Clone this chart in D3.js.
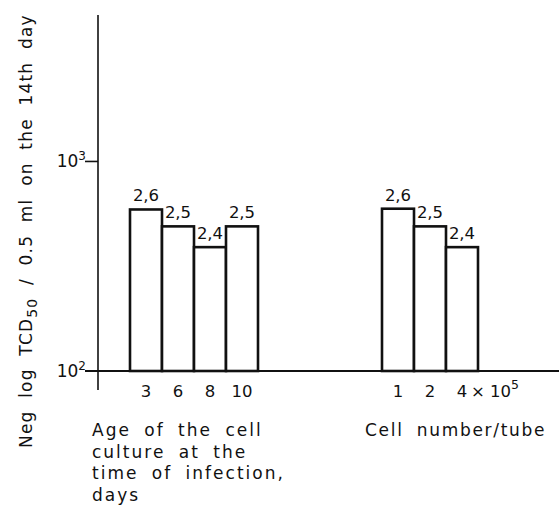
<!DOCTYPE html>
<html>
<head>
<meta charset="utf-8">
<script src="https://cdn.jsdelivr.net/npm/d3@7"></script>
<style>
  body { margin: 0; background: #fff; }
  text { font-family: "DejaVu Sans", sans-serif; fill: #111; }
</style>
</head>
<body>
<div id="chart"></div>
<script>
const width = 559, height = 505;

// group 1: age of the cell culture (days)
const ageDays = ["3", "6", "8", "10"];
const ageTCD = [590, 490, 390, 490];
const ageLabels = ["2,6", "2,5", "2,4", "2,5"];

// group 2: cell number per tube (x 10^5)
const cellNum = ["1", "2", "4"];
const cellTCD = [595, 490, 390];
const cellLabels = ["2,6", "2,5", "2,4"];

const yTicks = [100, 1000];
const yTickExp = ["2", "3"];

const svg = d3.select("#chart")
  .append("svg")
  .attr("width", width)
  .attr("height", height);

const y = d3.scaleLog()
  .domain([100, 5000])
  .range([371, 15]);

const x1 = d3.scaleBand().domain(ageDays).range([130, 258]).padding(0);
const x2 = d3.scaleBand().domain(cellNum).range([382, 478]).padding(0);

// y axis line
svg.append("line")
  .attr("x1", 98).attr("x2", 98)
  .attr("y1", y(5000)).attr("y2", 390)
  .attr("stroke", "#111").attr("stroke-width", 1.6);

// ticks + labels
yTicks.forEach((t, i) => {
  svg.append("line")
    .attr("x1", 85).attr("x2", 98)
    .attr("y1", y(t)).attr("y2", y(t))
    .attr("stroke", "#111").attr("stroke-width", 1.6);
  const lab = svg.append("text")
    .attr("x", 86).attr("y", y(t) + 6)
    .attr("text-anchor", "end")
    .style("font-size", "17px");
  lab.append("tspan").text("10");
  lab.append("tspan").attr("dy", -7).style("font-size", "12px").text(yTickExp[i]);
});

// baseline
svg.append("line")
  .attr("x1", 85).attr("x2", width)
  .attr("y1", y(100)).attr("y2", y(100))
  .attr("stroke", "#111").attr("stroke-width", 1.8);

function drawGroup(x, cats, vals, labels) {
  const g = svg.append("g");
  g.selectAll("rect")
    .data(cats)
    .enter()
    .append("rect")
    .attr("x", d => x(d))
    .attr("y", (d, i) => y(vals[i]))
    .attr("width", x.bandwidth())
    .attr("height", (d, i) => y(100) - y(vals[i]))
    .attr("fill", "#fff")
    .attr("stroke", "#111")
    .attr("stroke-width", 2.6);
  g.selectAll("text.val")
    .data(cats)
    .enter()
    .append("text")
    .attr("class", "val")
    .attr("x", d => x(d) + x.bandwidth() / 2)
    .attr("y", (d, i) => y(vals[i]) - 8)
    .attr("text-anchor", "middle")
    .style("font-size", "16.5px")
    .text((d, i) => labels[i]);
  g.selectAll("text.tick")
    .data(cats)
    .enter()
    .append("text")
    .attr("class", "tick")
    .attr("x", d => x(d) + x.bandwidth() / 2)
    .attr("y", 397)
    .attr("text-anchor", "middle")
    .style("font-size", "16.5px")
    .text(d => d);
}

drawGroup(x1, ageDays, ageTCD, ageLabels);
drawGroup(x2, cellNum, cellTCD, cellLabels);

// "x 10^5" after the last cell number
const unit = svg.append("text")
  .attr("x", x2("4") + x2.bandwidth() / 2 + 9)
  .attr("y", 397)
  .style("font-size", "16.5px");
unit.append("tspan").text("× 10");
unit.append("tspan").attr("dy", -8).style("font-size", "12.5px").text("5");

// y axis title
const yt = svg.append("text")
  .attr("transform", "translate(32,448) rotate(-90)")
  .style("font-size", "17px")
  .style("letter-spacing", "1.2px")
  .style("word-spacing", "6px");
yt.append("tspan").text("Neg log TCD");
yt.append("tspan").attr("dy", 5).style("font-size", "14px").text("50");
yt.append("tspan").attr("dy", -5).text(" / 0.5 ml on the 14th day");

// x titles
const ageTitle = ["Age of the cell", "culture at the", "time of infection,", "days"];
svg.selectAll("text.xt")
  .data(ageTitle)
  .enter()
  .append("text")
  .attr("class", "xt")
  .attr("x", 92)
  .attr("y", (d, i) => 436 + i * 21.5)
  .style("font-size", "17px")
  .style("letter-spacing", "2px")
  .style("word-spacing", "6px")
  .text(d => d);

svg.append("text")
  .attr("x", 365)
  .attr("y", 436)
  .style("font-size", "17px")
  .style("letter-spacing", "1.7px")
  .style("word-spacing", "6px")
  .text("Cell number/tube");
</script>
</body>
</html>
